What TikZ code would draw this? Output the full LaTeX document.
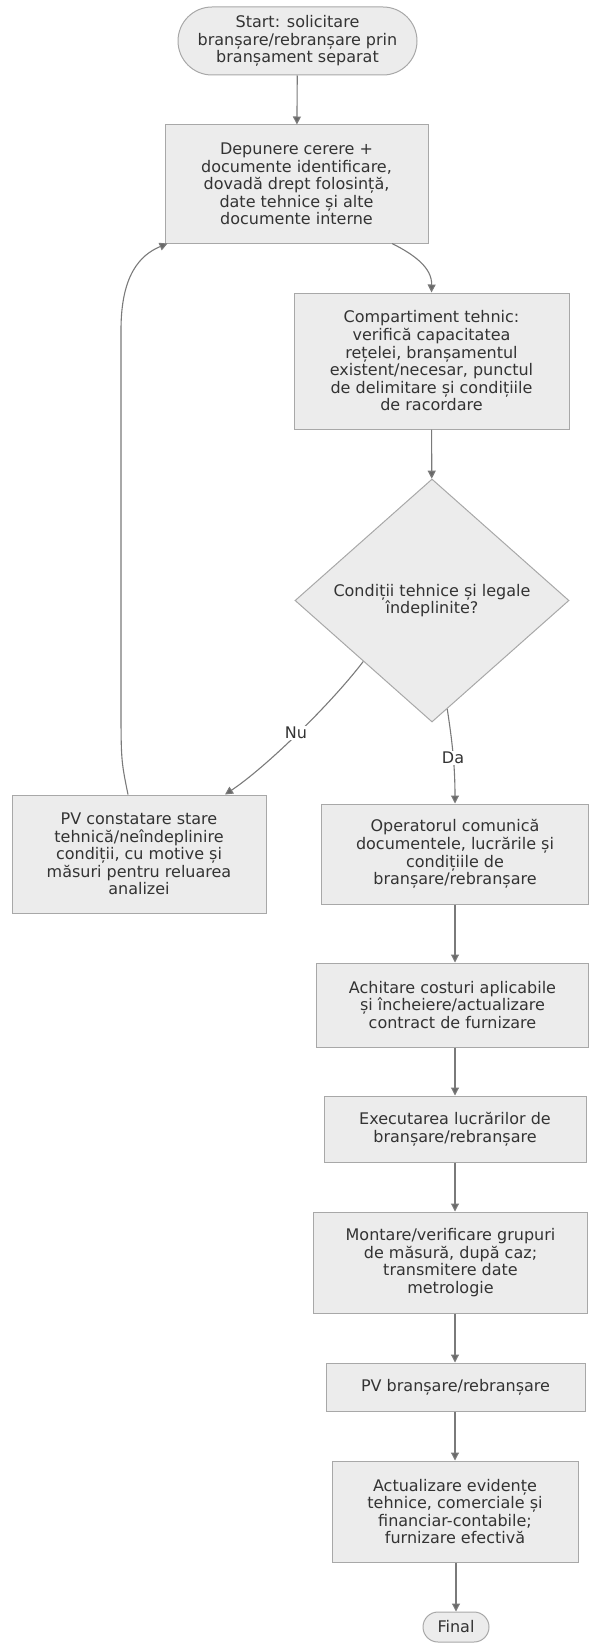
\documentclass[tikz,border=0pt]{standalone}
\usepackage{fontspec}
\setmainfont{DejaVu Sans}
\usetikzlibrary{shapes.geometric,arrows.meta}
\definecolor{boxfill}{HTML}{ECECEC}
\definecolor{boxline}{HTML}{A8A8A8}
\definecolor{edgeline}{HTML}{7A7A7A}
\definecolor{txt}{HTML}{333333}
\begin{document}
\begin{tikzpicture}[x=1pt,y=-1pt,
  every node/.style={font=\fontsize{16}{17.6}\selectfont, text=txt, align=center, inner sep=0pt},
  proc/.style={draw=boxline, fill=boxfill, line width=1pt, rectangle},
  term/.style={draw=boxline, fill=boxfill, line width=1pt, rectangle, rounded corners=16pt},
  decis/.style={draw=boxline, fill=boxfill, line width=1pt, diamond, aspect=1.13},
  conn/.style={draw=edgeline, line width=1.1pt, -{Triangle[width=8pt,length=8pt,fill=edgeline!85!black]}},
  elabel/.style={fill=white, inner sep=1pt}]
\useasboundingbox (0,0) rectangle (589,1643);
\node[term, rounded corners=34pt, minimum width=239pt, minimum height=68pt] (start) at (297.5,41)
  {Start: solicitare\\branșare/rebranșare prin\\branșament separat};
\node[proc, minimum width=263pt, minimum height=118pt] (b1) at (296.5,184)
  {Depunere cerere +\\documente identificare,\\dovadă drept folosință,\\date tehnice și alte\\documente interne};
\node[proc, minimum width=275pt, minimum height=136pt] (b2) at (431.5,361)
  {Compartiment tehnic:\\verifică capacitatea\\rețelei, branșamentul\\existent/necesar, punctul\\de delimitare și condițiile\\de racordare};
\node[decis, minimum width=274pt, minimum height=243pt] (dia) at (432,600.5)
  {Condiții tehnice și legale\\îndeplinite?};
\node[proc, minimum width=254pt, minimum height=118pt] (pv) at (139,854)
  {PV constatare stare\\tehnică/neîndeplinire\\condiții, cu motive și\\măsuri pentru reluarea\\analizei};
\node[proc, minimum width=267pt, minimum height=100pt] (op) at (455,854)
  {Operatorul comunică\\documentele, lucrările și\\condițiile de\\branșare/rebranșare};
\node[proc, minimum width=272pt, minimum height=84pt] (ach) at (452.5,1005)
  {Achitare costuri aplicabile\\și încheiere/actualizare\\contract de furnizare};
\node[proc, minimum width=262pt, minimum height=66pt] (exe) at (455,1129)
  {Executarea lucrărilor de\\branșare/rebranșare};
\node[proc, minimum width=274pt, minimum height=101pt] (mon) at (450.5,1262.5)
  {Montare/verificare grupuri\\de măsură, după caz;\\transmitere date\\metrologie};
\node[proc, minimum width=259pt, minimum height=48pt] (pvb) at (455.5,1387)
  {PV branșare/rebranșare};
\node[proc, minimum width=246pt, minimum height=101pt] (act) at (455,1511.5)
  {Actualizare evidențe\\tehnice, comerciale și\\financiar-contabile;\\furnizare efectivă};
\node[term, minimum width=66pt, minimum height=30pt, rounded corners=15pt] (fin) at (456,1627)
  {Final};

\draw[conn] (start) -- (b1);
\draw[conn] ([xshift=95.5pt]b1.south) .. controls (415,255) and (432,268) .. (b2.north);
\draw[conn] (b2) -- (dia);
\draw[conn] (dia.south west) .. controls (330,705) and (265,768) .. ([xshift=86pt]pv.north);
\draw[conn] (dia.-82) .. controls (452,740) and (455,765) .. (op.north);
\draw[conn] ([xshift=-11pt]pv.north) .. controls (121,760) .. (121,700) -- (121,330)
  .. controls (121,275) and (140,255) .. ([xshift=3pt]b1.south west);
\node[elabel] (nu) at (296,733) {Nu};
\node[elabel] (da) at (453,758) {Da};
\draw[conn] (op.south) -- (op.south |- ach.north);
\draw[conn] (ach.south -| op.south) -- (op.south |- exe.north);
\draw[conn] (exe.south -| op.south) -- (op.south |- mon.north);
\draw[conn] (mon.south -| op.south) -- (op.south |- pvb.north);
\draw[conn] (pvb.south -| op.south) -- (op.south |- act.north);
\draw[conn] (act.south -| fin.north) -- (fin.north);
\end{tikzpicture}
\end{document}
